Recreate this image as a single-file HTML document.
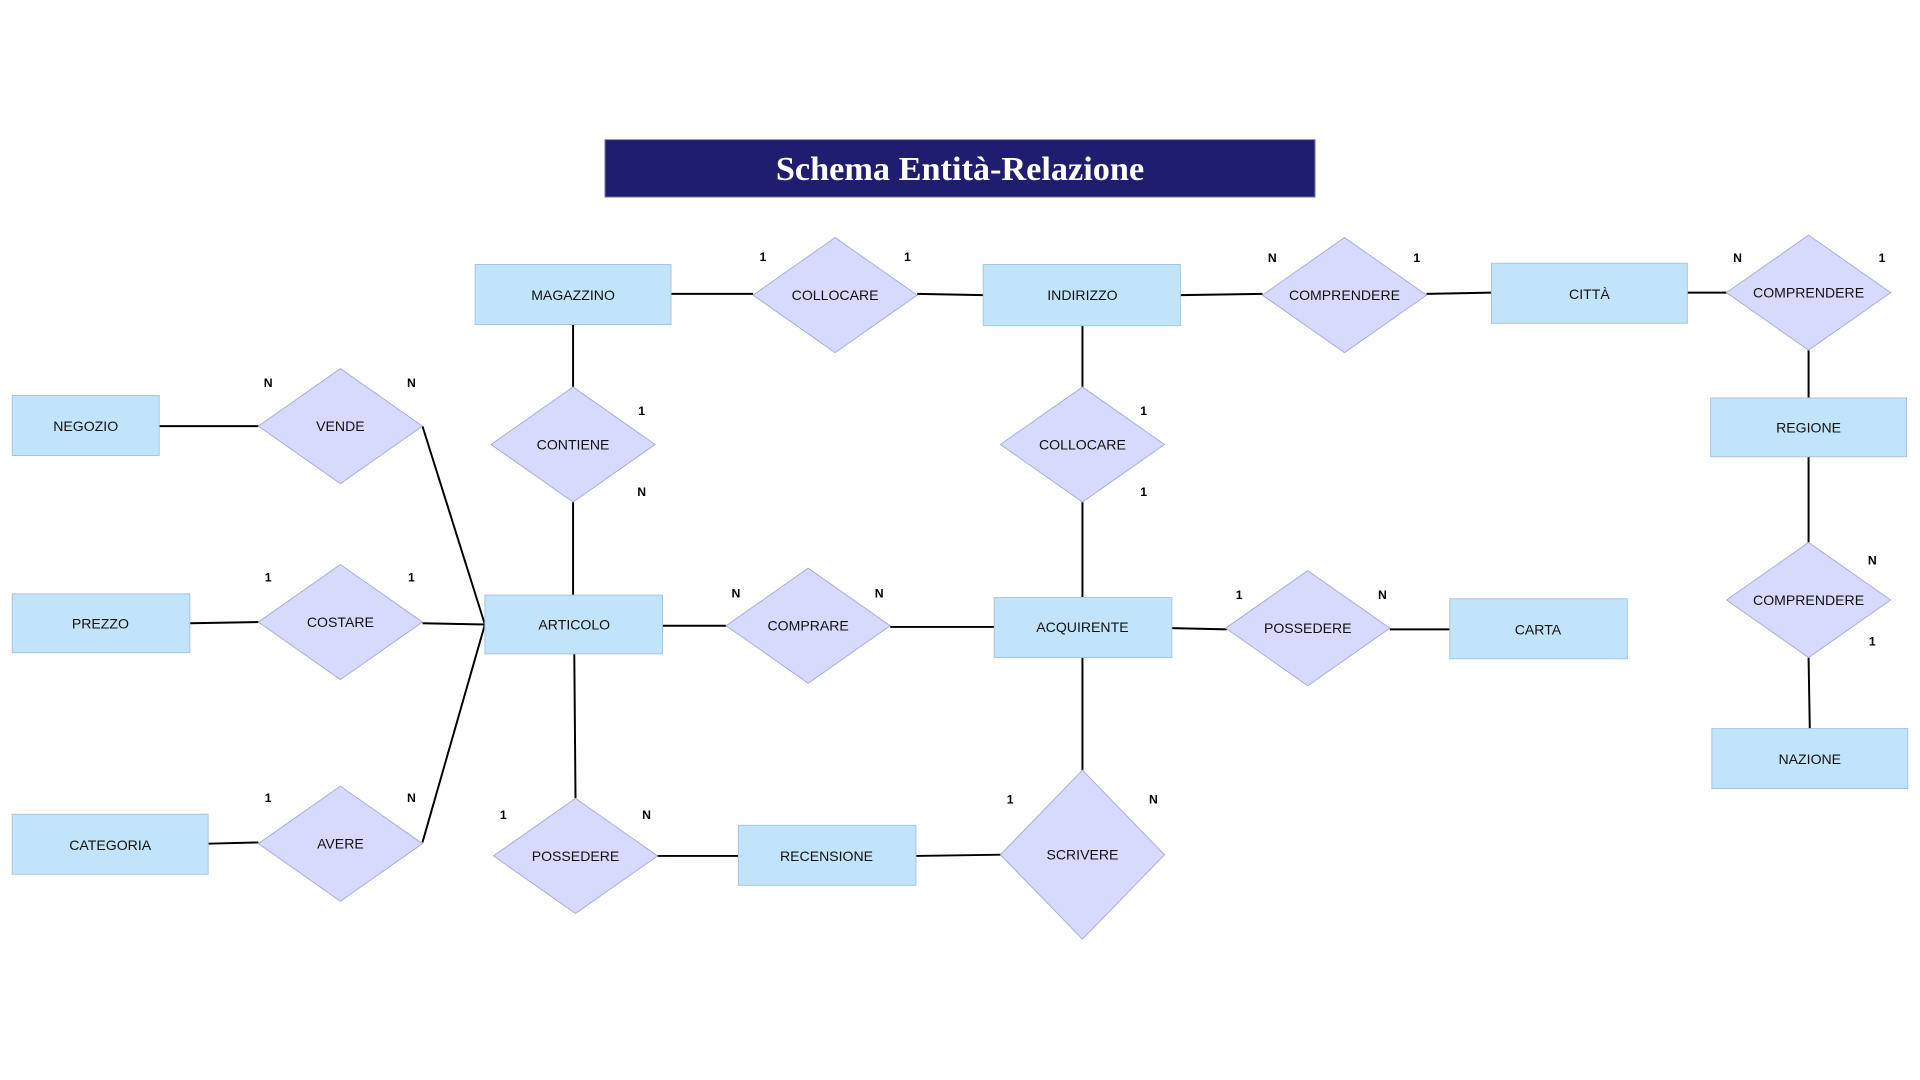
<!DOCTYPE html>
<html><head><meta charset="utf-8"><style>
html,body{margin:0;padding:0;background:#fff;width:1920px;height:1080px;overflow:hidden}
svg text{font-family:"Liberation Sans",sans-serif}
.e{fill:#c2e4fb;stroke:#a6c6e0;stroke-width:0.8}
.d{fill:#d7dafc;stroke:#a9addc;stroke-width:0.8}
.l{stroke:#000;stroke-width:1.6;fill:none}
.t{font-size:11.5px;fill:#111;text-anchor:middle;dominant-baseline:central}
.c{font-size:10px;font-weight:bold;fill:#000;text-anchor:middle}
</style></head><body>
<svg width="1920" height="1080" viewBox="0 0 1568 882" xmlns="http://www.w3.org/2000/svg">
<rect x="494" y="114" width="580" height="47" fill="#1f1d6e" stroke="#8b8fc7" stroke-width="0.8"/>
<text x="784" y="138" text-anchor="middle" dominant-baseline="central" style="font-family:'Liberation Serif',serif;font-weight:bold;font-size:28px" fill="#fff">Schema Entità-Relazione</text>
<g class="l">
<line x1="130" y1="348" x2="211" y2="348"/><line x1="345" y1="348" x2="396" y2="510"/>
<line x1="155" y1="509" x2="211" y2="508"/><line x1="345" y1="509" x2="396" y2="510"/>
<line x1="170" y1="689" x2="211" y2="688"/><line x1="345" y1="688" x2="396" y2="510"/>
<line x1="548" y1="240" x2="615" y2="240"/><line x1="749" y1="240" x2="803" y2="241"/>
<line x1="964" y1="241" x2="1031" y2="240"/><line x1="1165" y1="240" x2="1218" y2="239"/>
<line x1="1378" y1="239" x2="1410" y2="239"/><line x1="1477" y1="286" x2="1477" y2="325"/>
<line x1="1477" y1="373" x2="1477" y2="443"/><line x1="1477" y1="537" x2="1478" y2="595"/>
<line x1="468" y1="265" x2="468" y2="316"/><line x1="468" y1="410" x2="468" y2="486"/>
<line x1="884" y1="266" x2="884" y2="316"/><line x1="884" y1="410" x2="884" y2="488"/>
<line x1="541" y1="511" x2="593" y2="511"/><line x1="727" y1="512" x2="812" y2="512"/>
<line x1="957" y1="513" x2="1002" y2="514"/><line x1="1135" y1="514" x2="1184" y2="514"/>
<line x1="469" y1="534" x2="470" y2="652"/><line x1="537" y1="699" x2="603" y2="699"/>
<line x1="748" y1="699" x2="818" y2="698"/><line x1="884" y1="537" x2="884" y2="629"/>
</g>
<g class="e">
<rect x="388" y="216" width="160" height="49"/><rect x="803" y="216" width="161" height="50"/>
<rect x="1218" y="215" width="160" height="49"/><rect x="10" y="323" width="120" height="49"/>
<rect x="1397" y="325" width="160" height="48"/><rect x="10" y="485" width="145" height="48"/>
<rect x="396" y="486" width="145" height="48"/><rect x="812" y="488" width="145" height="49"/>
<rect x="1184" y="489" width="145" height="49"/><rect x="1398" y="595" width="160" height="49"/>
<rect x="10" y="665" width="160" height="49"/><rect x="603" y="674" width="145" height="49"/>
</g>
<g class="d">
<polygon points="682,194 749,241 682,288 615,241"/>
<polygon points="1098,194 1165,241 1098,288 1031,241"/>
<polygon points="1477,192 1544,239 1477,286 1410,239"/>
<polygon points="278,301 345,348 278,395 211,348"/>
<polygon points="468,316 535,363 468,410 401,363"/>
<polygon points="884,316 951,363 884,410 817,363"/>
<polygon points="278,461 345,508 278,555 211,508"/>
<polygon points="660,464 727,511 660,558 593,511"/>
<polygon points="1068,466 1135,513 1068,560 1001,513"/>
<polygon points="1477,443 1544,490 1477,537 1410,490"/>
<polygon points="278,642 345,689 278,736 211,689"/>
<polygon points="470,652 537,699 470,746 403,699"/>
<polygon points="884,629 951,698 884,767 817,698"/>
</g>
<g class="t">
<text x="468" y="241">MAGAZZINO</text><text x="884" y="241">INDIRIZZO</text><text x="1298" y="240">CITTÀ</text>
<text x="70" y="348">NEGOZIO</text><text x="1477" y="349">REGIONE</text><text x="82" y="509">PREZZO</text>
<text x="469" y="510">ARTICOLO</text><text x="884" y="512">ACQUIRENTE</text><text x="1256" y="514">CARTA</text>
<text x="1478" y="620">NAZIONE</text><text x="90" y="690">CATEGORIA</text><text x="675" y="699">RECENSIONE</text>
<text x="682" y="241">COLLOCARE</text><text x="1098" y="241">COMPRENDERE</text><text x="1477" y="239">COMPRENDERE</text>
<text x="278" y="348">VENDE</text><text x="468" y="363">CONTIENE</text><text x="884" y="363">COLLOCARE</text>
<text x="278" y="508">COSTARE</text><text x="660" y="511">COMPRARE</text><text x="1068" y="513">POSSEDERE</text>
<text x="1477" y="490">COMPRENDERE</text><text x="278" y="689">AVERE</text><text x="470" y="699">POSSEDERE</text>
<text x="884" y="698">SCRIVERE</text>
</g>
<g class="c">
<text x="623" y="213">1</text><text x="741" y="213">1</text><text x="1039" y="214">N</text><text x="1157" y="214">1</text>
<text x="1419" y="214">N</text><text x="1537" y="214">1</text>
<text x="219" y="316">N</text><text x="336" y="316">N</text><text x="524" y="339">1</text><text x="524" y="405">N</text>
<text x="934" y="339">1</text><text x="934" y="405">1</text>
<text x="219" y="475">1</text><text x="336" y="475">1</text><text x="601" y="488">N</text><text x="718" y="488">N</text>
<text x="1012" y="489">1</text><text x="1129" y="489">N</text><text x="1529" y="461">N</text><text x="1529" y="527">1</text>
<text x="219" y="655">1</text><text x="336" y="655">N</text><text x="411" y="669">1</text><text x="528" y="669">N</text>
<text x="825" y="656">1</text><text x="942" y="656">N</text>
</g>
</svg>
</body></html>
